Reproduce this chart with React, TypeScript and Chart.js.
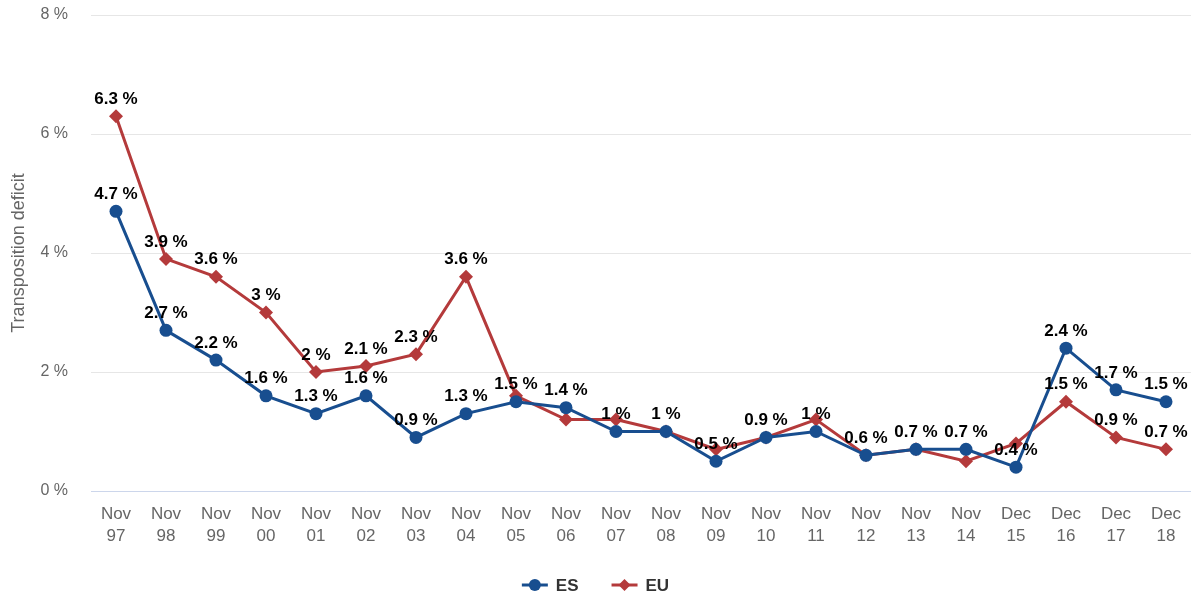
import React, { useEffect, useRef } from "react";
import { Chart, registerables } from "chart.js";

Chart.register(...registerables);

const categories: string[][] = [
  ["Nov", "97"], ["Nov", "98"], ["Nov", "99"], ["Nov", "00"], ["Nov", "01"], ["Nov", "02"],
  ["Nov", "03"], ["Nov", "04"], ["Nov", "05"], ["Nov", "06"], ["Nov", "07"], ["Nov", "08"],
  ["Nov", "09"], ["Nov", "10"], ["Nov", "11"], ["Nov", "12"], ["Nov", "13"], ["Nov", "14"],
  ["Dec", "15"], ["Dec", "16"], ["Dec", "17"], ["Dec", "18"],
];

const esValues: number[] = [4.7, 2.7, 2.2, 1.6, 1.3, 1.6, 0.9, 1.3, 1.5, 1.4, 1, 1, 0.5, 0.9, 1, 0.6, 0.7, 0.7, 0.4, 2.4, 1.7, 1.5];
const euValues: number[] = [6.3, 3.9, 3.6, 3, 2, 2.1, 2.3, 3.6, 1.6, 1.2, 1.2, 1, 0.7, 0.9, 1.2, 0.6, 0.7, 0.5, 0.8, 1.5, 0.9, 0.7];

const seriesNames: string[] = ["ES", "EU"];
const yTicks: number[] = [0, 2, 4, 6, 8];

const BLUE = "#184e8f";
const RED = "#b43a3b";
const FONT = "'Liberation Sans', Arial, sans-serif";

const dataLabelPlugin = {
  id: "dataLabels",
  afterDatasetsDraw(chart: any) {
    const ctx = chart.ctx;
    ctx.save();
    ctx.font = `bold 17px ${FONT}`;
    ctx.textAlign = "center";
    ctx.textBaseline = "middle";
    ctx.fillStyle = "#000";
    const placed: { x1: number; y1: number; x2: number; y2: number }[] = [];
    const padX = 2;
    const padY = 4;
    chart.data.datasets.forEach((ds: any, di: number) => {
      const meta = chart.getDatasetMeta(di);
      meta.data.forEach((pt: any, i: number) => {
        const text = `${ds.data[i]} %`;
        const w = ctx.measureText(text).width;
        const x = pt.x;
        const y = pt.y - 17;
        const box = { x1: x - w / 2 - padX, y1: y - 9 - padY, x2: x + w / 2 + padX, y2: y + 9 + padY };
        const hit = placed.some((b) => box.x1 < b.x2 && box.x2 > b.x1 && box.y1 < b.y2 && box.y2 > b.y1);
        if (hit) return;
        placed.push(box);
        ctx.fillText(text, x, y);
      });
    });
    ctx.restore();
  },
};

const legendPlugin = {
  id: "customLegend",
  afterDraw(chart: any) {
    const ctx = chart.ctx;
    ctx.save();
    ctx.font = `bold 17px ${FONT}`;
    ctx.textBaseline = "middle";
    const symW = 26;
    const gap = 8;
    const itemGap = 33;
    const colors = [BLUE, RED];
    const widths = seriesNames.map((n) => symW + gap + ctx.measureText(n).width);
    const total = widths.reduce((a, b) => a + b, 0) + itemGap * (seriesNames.length - 1);
    let x = chart.width / 2 - total / 2;
    const y = 585;
    seriesNames.forEach((n, i) => {
      ctx.strokeStyle = colors[i];
      ctx.lineWidth = 3;
      ctx.beginPath();
      ctx.moveTo(x, y);
      ctx.lineTo(x + symW, y);
      ctx.stroke();
      ctx.fillStyle = colors[i];
      const cx = x + symW / 2;
      ctx.beginPath();
      if (i === 0) {
        ctx.arc(cx, y, 6, 0, Math.PI * 2);
      } else {
        ctx.moveTo(cx, y - 6);
        ctx.lineTo(cx + 6, y);
        ctx.lineTo(cx, y + 6);
        ctx.lineTo(cx - 6, y);
        ctx.closePath();
      }
      ctx.fill();
      ctx.fillStyle = "#333";
      ctx.textAlign = "left";
      ctx.fillText(n, x + symW + gap, y + 1);
      x += widths[i] + itemGap;
    });
    ctx.restore();
  },
};

export default function App() {
  const ref = useRef<HTMLCanvasElement>(null);
  useEffect(() => {
    document.body.style.margin = "0";
    const chart = new Chart(ref.current as HTMLCanvasElement, {
      type: "line",
      data: {
        labels: categories,
        datasets: [
          {
            label: seriesNames[0],
            data: esValues,
            borderColor: BLUE,
            backgroundColor: BLUE,
            borderWidth: 3,
            pointStyle: "circle",
            pointRadius: 6.5,
            pointBorderWidth: 0,
            tension: 0,
            clip: false,
          },
          {
            label: seriesNames[1],
            data: euValues,
            borderColor: RED,
            backgroundColor: RED,
            borderWidth: 3,
            pointStyle: "rectRot",
            pointRadius: 7,
            pointBorderWidth: 0,
            tension: 0,
            clip: false,
          },
        ],
      },
      options: {
        animation: false,
        responsive: false,
        layout: { autoPadding: false, padding: { top: 15, right: 0, bottom: 0, left: 0 } },
        plugins: {
          legend: { display: false },
          tooltip: { enabled: false },
        },
        scales: {
          x: {
            offset: true,
            grid: { display: false, drawTicks: false },
            border: { display: true, color: "#ccd6eb", width: 1 },
            ticks: {
              color: "#666",
              padding: 12,
              maxRotation: 0,
              autoSkip: false,
              font: { family: FONT, size: 17, lineHeight: 1.3 },
            },
            afterFit(scale: any) {
              scale.height = 104;
              scale.paddingLeft = 0;
              scale.paddingRight = 0;
            },
          },
          y: {
            min: 0,
            max: 8,
            afterBuildTicks(scale: any) {
              scale.ticks = yTicks.map((v) => ({ value: v }));
            },
            grid: { color: "#e6e6e6", drawTicks: false, lineWidth: 1 },
            border: { display: false },
            ticks: {
              color: "#666",
              padding: 23,
              font: { family: FONT, size: 16 },
              callback: (v: any) => `${v} %`,
            },
            title: {
              display: true,
              text: "Transposition deficit",
              color: "#666",
              font: { family: FONT, size: 18 },
              padding: { top: 8, bottom: 0 },
            },
            afterFit(scale: any) {
              scale.width = 91;
              scale.paddingTop = 0;
              scale.paddingBottom = 0;
            },
          },
        },
      },
      plugins: [dataLabelPlugin, legendPlugin],
    });
    return () => chart.destroy();
  }, []);
  return (
    <div style={{ position: "absolute", left: 0, top: 0, width: 1191, height: 595 }}>
      <canvas ref={ref} width={1191} height={595} style={{ width: 1191, height: 595 }} />
    </div>
  );
}
